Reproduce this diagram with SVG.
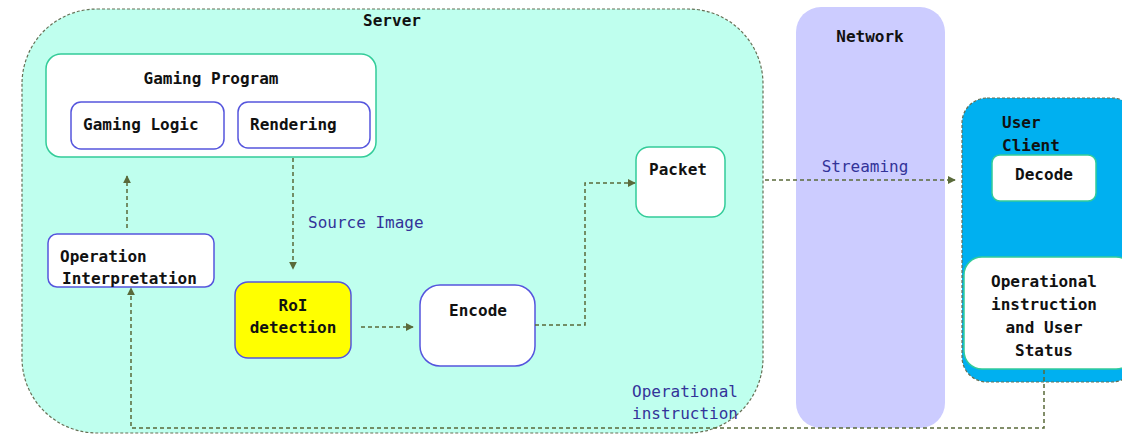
<svg xmlns="http://www.w3.org/2000/svg" width="1122" height="434" viewBox="0 0 1122 434">
<defs>
<style>
.t{font-family:"DejaVu Sans Mono","Liberation Mono",monospace;font-size:16px;font-weight:bold;fill:#111;}
.c{text-anchor:middle;}
.b{fill:#333399;font-weight:normal;}
.blue{fill:#fff;stroke:#5555dd;stroke-width:1.5;}
.teal{fill:#fff;stroke:#33cc99;stroke-width:1.5;}
.con{fill:none;stroke:#5a6a3a;stroke-width:1.5;stroke-dasharray:4 3;}
</style>
<marker id="ah" viewBox="0 0 10 10" refX="9" refY="5" markerWidth="8" markerHeight="8" markerUnits="userSpaceOnUse" orient="auto">
<path d="M0,0 L10,5 L0,10 z" fill="#5a6a3a"/>
</marker>
</defs>
<rect width="1122" height="434" fill="#fff"/>
<g id="server">
<rect x="22" y="9" width="741" height="424" rx="75" fill="#bfffee" stroke="#667055" stroke-width="1.2" stroke-dasharray="3 2"/>
<text class="t c" x="392" y="26">Server</text>
</g>
<g id="network">
<rect x="796" y="7" width="149" height="421" rx="25" fill="#ccccff"/>
<text class="t c" x="870" y="42">Network</text>
</g>
<g id="userclient">
<rect x="962" y="98" width="175" height="284" rx="25" fill="#00b0f0" stroke="#667055" stroke-width="1.2" stroke-dasharray="3 2"/>
<text class="t" x="1002" y="128">User</text>
<text class="t" x="1002" y="151">Client</text>
</g>
<g id="gaming-program">
<rect class="teal" x="46" y="54" width="330" height="103" rx="15"/>
<text class="t c" x="211" y="84">Gaming Program</text>
</g>
<g id="gaming-logic">
<rect class="blue" x="71" y="102" width="153" height="47" rx="10"/>
<text class="t" x="83" y="130">Gaming Logic</text>
</g>
<g id="rendering">
<rect class="blue" x="238" y="102" width="132" height="46" rx="10"/>
<text class="t" x="250" y="130">Rendering</text>
</g>
<g id="operation-interpretation">
<rect class="blue" x="48" y="234" width="166" height="53" rx="9"/>
<text class="t" x="60" y="262">Operation</text>
<text class="t" x="62" y="284">Interpretation</text>
</g>
<g id="roi">
<rect x="235" y="282" width="116" height="76" rx="13" fill="#ffff00" stroke="#5555dd" stroke-width="1.5"/>
<text class="t c" x="293" y="311">RoI</text>
<text class="t c" x="293" y="333">detection</text>
</g>
<g id="encode">
<rect class="blue" x="420" y="285" width="115" height="81" rx="20"/>
<text class="t c" x="478" y="316">Encode</text>
</g>
<g id="packet">
<rect class="teal" x="636" y="147" width="89" height="70" rx="13"/>
<text class="t c" x="678" y="175">Packet</text>
</g>
<g id="decode">
<rect class="teal" x="992" y="155" width="104" height="46" rx="8"/>
<text class="t c" x="1044" y="180">Decode</text>
</g>
<g id="op-instruction-status">
<rect class="teal" x="964" y="257" width="170" height="112" rx="18"/>
<text class="t c" x="1044" y="287">Operational</text>
<text class="t c" x="1044" y="310">instruction</text>
<text class="t c" x="1044" y="333">and User</text>
<text class="t c" x="1044" y="356">Status</text>
</g>
<g id="connectors">
<path class="con" d="M293,158 L293,269" marker-end="url(#ah)"/>
<path class="con" d="M127,228 L127,176" marker-end="url(#ah)"/>
<path class="con" d="M361,327 L413,327" marker-end="url(#ah)"/>
<path class="con" d="M535,325 L585,325 L585,183 L635,183" marker-end="url(#ah)"/>
<path class="con" d="M765,180 L955,180" marker-end="url(#ah)"/>
<path class="con" d="M1044,370 L1044,428 L131,428 L131,288" marker-end="url(#ah)"/>
<text class="t b" x="308" y="228">Source Image</text>
<text class="t c b" x="865" y="172">Streaming</text>
<text class="t b" x="632" y="397">Operational</text>
<text class="t b" x="632" y="419">instruction</text>
</g>
</svg>
